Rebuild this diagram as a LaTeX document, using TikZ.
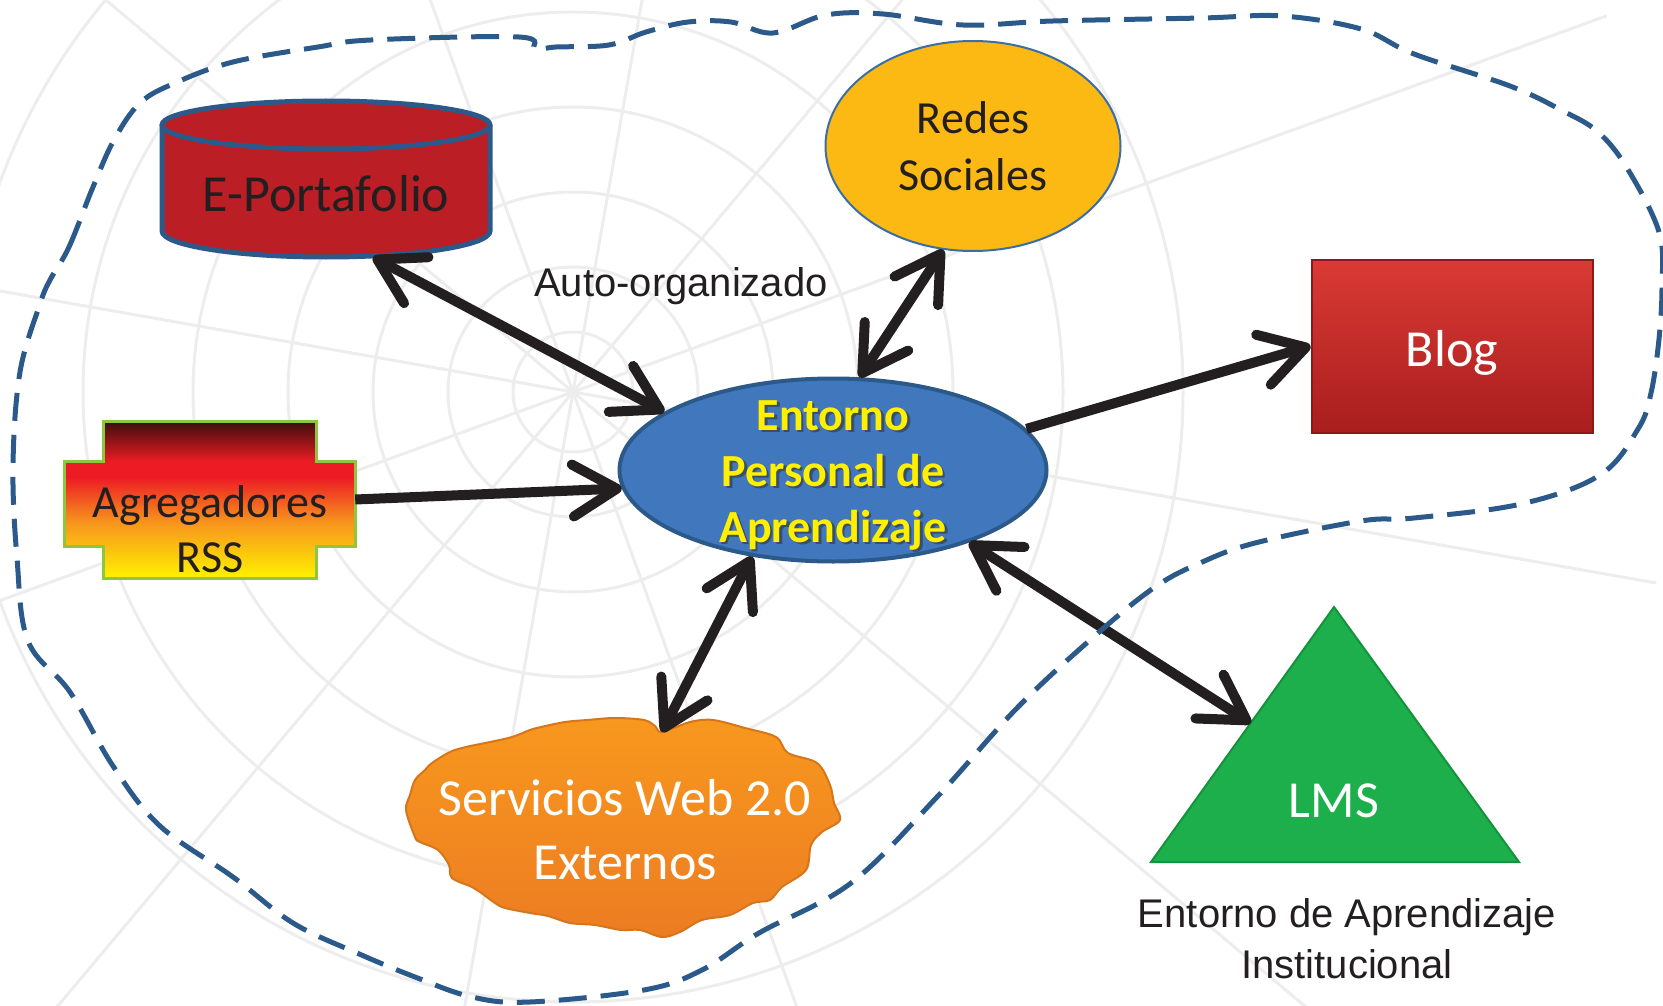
\documentclass[tikz,border=0pt]{standalone}
\usepackage{fontspec}
\setmainfont{Carlito}
\newfontfamily\arialfont{Liberation Sans}
\usetikzlibrary{positioning}
\usetikzlibrary{calc}
\usetikzlibrary{arrows.meta}
\usetikzlibrary{shapes.geometric}
\definecolor{dashblue}{RGB}{43, 90, 138}
\definecolor{epablue}{RGB}{64, 119, 189}
\definecolor{epatext}{RGB}{255, 240, 0}
\definecolor{portred}{RGB}{187, 30, 36}
\definecolor{redesyellow}{RGB}{252, 184, 19}
\definecolor{redesline}{RGB}{58, 110, 165}
\definecolor{blogtop}{RGB}{218, 58, 52}
\definecolor{blogbottom}{RGB}{168, 30, 30}
\definecolor{blogline}{RGB}{140, 25, 25}
\definecolor{rssline}{RGB}{141, 198, 63}
\definecolor{rssdark}{RGB}{58, 13, 13}
\definecolor{rssred}{RGB}{237, 28, 36}
\definecolor{rssorange}{RGB}{247, 147, 30}
\definecolor{rssyellow}{RGB}{255, 242, 0}
\definecolor{webbright}{RGB}{248, 152, 30}
\definecolor{webdeep}{RGB}{236, 124, 34}
\definecolor{webline}{RGB}{214, 118, 28}
\definecolor{lmsgreen}{RGB}{28, 175, 75}
\definecolor{lmsline}{RGB}{22, 145, 60}
\definecolor{inkcolor}{RGB}{35, 31, 32}
\definecolor{webgray}{RGB}{237, 237, 237}
\pgfdeclareverticalshading{rssshading}{100bp}{color(0bp)=(rssyellow); color(25bp)=(rssyellow); color(43bp)=(rssorange); color(57bp)=(rssred); color(62bp)=(rssred); color(75bp)=(rssdark); color(100bp)=(rssdark)}
\tikzstyle{link} = [{Straight Barb[length=44pt, width=52pt, round]}-{Straight Barb[length=44pt, width=52pt, round]}, line width=10pt, inkcolor]
\tikzstyle{feed} = [-{Straight Barb[length=44pt, width=52pt, round]}, line width=10pt, inkcolor]
\tikzstyle{boundary} = [dashblue, line width=5pt, dash pattern=on 28pt off 14pt]
\tikzstyle{calibri} = [font=\fontsize{52}{64}\selectfont]
\tikzstyle{arial} = [font=\arialfont\fontsize{40}{51}\selectfont]

\begin{document}
\begin{tikzpicture}[x=1pt, y=-1pt, every node/.style={text=inkcolor}]
	\useasboundingbox (0,0) rectangle (1663,1006);
	
	%
	% Background web
	\begin{scope}
		\clip (0,0) rectangle (1663,1006);
		\foreach \a in {10, 40, ..., 340}
			\draw [webgray, line width=3pt] (573,392) -- ++(\a:1100);
		\foreach \r in {60, 125, 200, 285, 380, 490, 610}
			\draw [webgray, line width=3pt] (573,392) circle[radius=\r];
	\end{scope}
	
	%
	% Entorno Personal de Aprendizaje
	\node [ellipse, draw=dashblue, line width=4pt, fill=epablue, minimum width=427pt, minimum height=183pt, inner sep=0pt] (epa) at (833,470) {};
	\node [text=black!80, opacity=0.6, align=center, font=\bfseries\fontsize{46}{56}\selectfont] at ([xshift=2.5pt, yshift=-7.5pt]epa.center) {Entorno\\Personal de\\Aprendizaje};
	\node [text=epatext, align=center, font=\bfseries\fontsize{46}{56}\selectfont] (epalabel) at ([yshift=-5pt]epa.center) {Entorno\\Personal de\\Aprendizaje};
	
	% E-Portafolio
	\node [minimum width=328pt, minimum height=156pt, inner sep=0pt] (eport) at (326,179) {};
	\fill [portred] (162,125) -- (162,231) arc[start angle=180, end angle=0, x radius=164, y radius=26] -- (490,125) -- cycle;
	\draw [dashblue, line width=5pt] (162,125) -- (162,231) arc[start angle=180, end angle=0, x radius=164, y radius=26] -- (490,125);
	\draw [dashblue, line width=5pt, fill=portred] (326,125) ellipse[x radius=164, y radius=24];
	\node [calibri] (eportlabel) at (326,194) {E-Portafolio};
	
	% Redes Sociales
	\node [ellipse, draw=redesline, line width=2pt, fill=redesyellow, minimum width=295pt, minimum height=210pt, align=center, font=\fontsize{46}{57}\selectfont] (redes) at (973,146) {Redes\\Sociales};
	
	% Blog
	\node [draw=blogline, line width=2pt, top color=blogtop, bottom color=blogbottom, minimum width=281pt, minimum height=173pt] (blog) at (1452,346) {};
	\node [calibri, text=white] (bloglabel) at (1452,353) {Blog};
	
	% Agregadores RSS
	\node [minimum width=291pt, minimum height=157pt, inner sep=0pt] (rss) at (209.5,499.5) {};
	\path [draw=rssline, line width=3pt, shading=rssshading] (103,421) -- (316,421) -- (316,461) -- (355,461) -- (355,546) -- (316,546) -- (316,578) -- (103,578) -- (103,546) -- (64,546) -- (64,461) -- (103,461) -- cycle;
	\node [align=center, font=\fontsize{46}{55}\selectfont] (rsslabel) at (210,529) {Agregadores\\RSS};
	
	% Servicios Web 2.0 Externos
	\path [draw=webline, line width=2pt, top color=webbright, bottom color=webdeep] plot[smooth cycle, tension=0.55] coordinates {(662,732) (690,722) (713,720) (745,728) (776,737) (788,753) (817,763) (830,785) (834,803) (840,820) (822,832) (811,845) (806,870) (782,887) (770,900) (753,903) (730,915) (702,920) (680,932) (662,937) (640,930) (621,930) (595,925) (570,923) (548,916) (530,913) (505,908) (495,903) (480,892) (472,887) (452,878) (449,865) (438,850) (420,842) (415,837) (406,810) (410,795) (415,780) (425,770) (432,763) (450,752) (466,747) (490,742) (512,737) (530,730) (541,727) (565,722) (587,720) (615,718) (644,720) (655,726)};
	\coordinate (webnotch) at (662,732);
	\node [calibri, text=white, align=center] (web) at (625,830) {Servicios Web 2.0\\Externos};
	
	% LMS
	\coordinate (lmsapex) at (1334,607);
	\coordinate (lmsleft) at (1151,862);
	\coordinate (lmsright) at (1519,862);
	\draw [lmsline, line width=2pt, fill=lmsgreen] (lmsapex) -- (lmsright) -- (lmsleft) -- cycle;
	\node [calibri, text=white] (lms) at (1334,801) {LMS};
	\node [arial, align=center] (lmslabel) at (1347,939) {Entorno de Aprendizaje\\Institucional};
	
	% Auto-organizado
	\node [arial, anchor=base] (autolabel) at (681,296) {Auto-organizado};
	
	%
	% Arrows
	\draw [link] (eport.-59) -- (epa.161);
	\draw [link] (redes.254) -- (epa.74);
	\draw [feed] (epa.12) -- (blog.west);
	\draw [feed] (rss.east) -- (epa.185);
	\draw [link] (epa.227) -- (webnotch);
	\draw [link] (epa.332) -- ($(lmsapex)!0.455!(lmsleft)$);
	
	%
	% Boundary
	\draw [boundary] plot[smooth cycle, tension=0.6] coordinates {(50,280) (69,247) (93,187) (114,140) (140,103) (175,83) (233,62) (318,47) (371,40) (519,37) (535,49) (556,47) (609,45) (646,32) (688,22) (731,22) (773,33) (826,15) (883,14) (963,25) (1053,21) (1202,18) (1282,16) (1361,29) (1414,54) (1510,86) (1563,111) (1598,132) (1627,168) (1659,232) (1662,286) (1659,339) (1651,393) (1638,429) (1600,475) (1521,504) (1414,518) (1361,521) (1255,543) (1200,563) (1155,587) (1098,633) (1018,707) (937,797) (851,883) (759,933) (702,970) (644,990) (530,1002) (472,997) (415,977) (357,953) (293,923) (233,877) (160,826) (113,766) (70,692) (28,641) (17,558) (13,465) (20,372) (40,304)};
	
\end{tikzpicture}
\end{document}
